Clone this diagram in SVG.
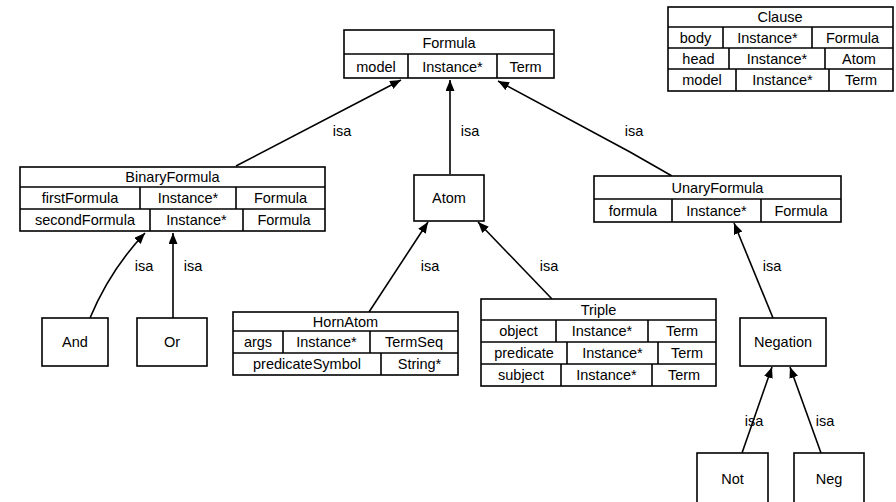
<svg xmlns="http://www.w3.org/2000/svg" width="896" height="502" viewBox="0 0 896 502">
<style>
.b,.d{fill:#fff;stroke:#000;stroke-width:1.6}
.d{fill:none}
.c{fill:none;stroke:#000;stroke-width:1.6}
text{font-family:"Liberation Sans",Arial,sans-serif;font-size:14.5px;fill:#000;text-anchor:middle}
</style>
<defs>
<marker id="ah" markerUnits="userSpaceOnUse" markerWidth="12" markerHeight="10" refX="11" refY="4.5" orient="auto">
<path d="M0,0 L11,4.5 L0,9 Z" fill="#000"/>
</marker>
</defs>
<rect x="0" y="0" width="896" height="502" fill="#fff"/>
<g id="connectors">
<path class="c" d="M236,166 L401,80" marker-end="url(#ah)"/>
<path class="c" d="M450,174 L450,80" marker-end="url(#ah)"/>
<path class="c" d="M672,176 L630,152 L498,81" marker-end="url(#ah)"/>
<path class="c" d="M90,318 Q110,270 145,233" marker-end="url(#ah)"/>
<path class="c" d="M173,318 L173,233" marker-end="url(#ah)"/>
<path class="c" d="M369,312 L428,222" marker-end="url(#ah)"/>
<path class="c" d="M552,299 L478,222" marker-end="url(#ah)"/>
<path class="c" d="M773,318 L734,223" marker-end="url(#ah)"/>
<path class="c" d="M742,453 L772,367" marker-end="url(#ah)"/>
<path class="c" d="M821,453 L790,367" marker-end="url(#ah)"/>
<text x="342" y="136">isa</text>
<text x="470" y="136">isa</text>
<text x="634" y="136">isa</text>
<text x="144" y="271">isa</text>
<text x="193" y="271">isa</text>
<text x="430" y="271">isa</text>
<text x="549" y="271">isa</text>
<text x="772" y="271">isa</text>
<text x="754" y="426">isa</text>
<text x="825" y="426">isa</text>
</g>
<g id="Clause">
<rect class="b" x="668" y="7" width="225" height="84"/>
<line class="d" x1="668" y1="27" x2="893" y2="27"/>
<line class="d" x1="668" y1="48" x2="893" y2="48"/>
<line class="d" x1="668" y1="69" x2="893" y2="69"/>
<line class="d" x1="723" y1="27" x2="723" y2="48"/>
<line class="d" x1="812" y1="27" x2="812" y2="48"/>
<line class="d" x1="729" y1="48" x2="729" y2="69"/>
<line class="d" x1="825" y1="48" x2="825" y2="69"/>
<line class="d" x1="736" y1="69" x2="736" y2="91"/>
<line class="d" x1="829" y1="69" x2="829" y2="91"/>
<text x="780" y="22">Clause</text>
<text x="695.5" y="42.5">body</text><text x="767.5" y="42.5">Instance*</text><text x="852.5" y="42.5">Formula</text>
<text x="698.5" y="63.5">head</text><text x="777" y="63.5">Instance*</text><text x="859" y="63.5">Atom</text>
<text x="702" y="85">model</text><text x="782.5" y="85">Instance*</text><text x="861" y="85">Term</text>
</g>
<g id="Formula">
<rect class="b" x="344" y="30" width="210" height="48"/>
<line class="d" x1="344" y1="54" x2="554" y2="54"/>
<line class="d" x1="408" y1="54" x2="408" y2="78"/>
<line class="d" x1="497" y1="54" x2="497" y2="78"/>
<text x="449" y="47.5">Formula</text>
<text x="376" y="71.5">model</text><text x="452.5" y="71.5">Instance*</text><text x="525.5" y="71.5">Term</text>
</g>
<g id="BinaryFormula">
<rect class="b" x="20" y="167" width="305" height="64"/>
<line class="d" x1="20" y1="187" x2="325" y2="187"/>
<line class="d" x1="20" y1="209" x2="325" y2="209"/>
<line class="d" x1="140" y1="187" x2="140" y2="209"/>
<line class="d" x1="236" y1="187" x2="236" y2="209"/>
<line class="d" x1="150" y1="209" x2="150" y2="231"/>
<line class="d" x1="243" y1="209" x2="243" y2="231"/>
<text x="172.5" y="182">BinaryFormula</text>
<text x="80" y="203">firstFormula</text><text x="188" y="203">Instance*</text><text x="280.5" y="203">Formula</text>
<text x="85" y="225">secondFormula</text><text x="196.5" y="225">Instance*</text><text x="284" y="225">Formula</text>
</g>
<g id="Atom">
<rect class="b" x="414" y="175" width="70" height="46"/>
<text x="449" y="203">Atom</text>
</g>
<g id="UnaryFormula">
<rect class="b" x="594" y="176" width="247" height="46"/>
<line class="d" x1="594" y1="199" x2="841" y2="199"/>
<line class="d" x1="672" y1="199" x2="672" y2="222"/>
<line class="d" x1="761" y1="199" x2="761" y2="222"/>
<text x="717.5" y="192.5">UnaryFormula</text>
<text x="633" y="215.5">formula</text><text x="716.5" y="215.5">Instance*</text><text x="801" y="215.5">Formula</text>
</g>
<g id="And">
<rect class="b" x="42" y="318" width="66" height="48"/>
<text x="75" y="347">And</text>
</g>
<g id="Or">
<rect class="b" x="137" y="318" width="70" height="48"/>
<text x="172" y="347">Or</text>
</g>
<g id="HornAtom">
<rect class="b" x="233" y="312" width="225" height="63"/>
<line class="d" x1="233" y1="331" x2="458" y2="331"/>
<line class="d" x1="233" y1="353" x2="458" y2="353"/>
<line class="d" x1="283" y1="331" x2="283" y2="353"/>
<line class="d" x1="370" y1="331" x2="370" y2="353"/>
<line class="d" x1="381" y1="353" x2="381" y2="375"/>
<text x="345.5" y="326.5">HornAtom</text>
<text x="258" y="347">args</text><text x="326.5" y="347">Instance*</text><text x="414" y="347">TermSeq</text>
<text x="307" y="369">predicateSymbol</text><text x="419.5" y="369">String*</text>
</g>
<g id="Triple">
<rect class="b" x="481" y="299" width="235" height="87"/>
<line class="d" x1="481" y1="320" x2="716" y2="320"/>
<line class="d" x1="481" y1="342" x2="716" y2="342"/>
<line class="d" x1="481" y1="364" x2="716" y2="364"/>
<line class="d" x1="556" y1="320" x2="556" y2="342"/>
<line class="d" x1="648" y1="320" x2="648" y2="342"/>
<line class="d" x1="567" y1="342" x2="567" y2="364"/>
<line class="d" x1="658" y1="342" x2="658" y2="364"/>
<line class="d" x1="561" y1="364" x2="561" y2="386"/>
<line class="d" x1="652" y1="364" x2="652" y2="386"/>
<text x="598.5" y="314.5">Triple</text>
<text x="518.5" y="336">object</text><text x="602" y="336">Instance*</text><text x="682" y="336">Term</text>
<text x="524" y="358">predicate</text><text x="612.5" y="358">Instance*</text><text x="687" y="358">Term</text>
<text x="521" y="380">subject</text><text x="606.5" y="380">Instance*</text><text x="684" y="380">Term</text>
</g>
<g id="Negation">
<rect class="b" x="740" y="318" width="86" height="48"/>
<text x="783" y="347">Negation</text>
</g>
<g id="Not">
<rect class="b" x="697" y="453" width="71" height="55"/>
<text x="732.5" y="483.5">Not</text>
</g>
<g id="Neg">
<rect class="b" x="794" y="453" width="70" height="55"/>
<text x="829" y="483.5">Neg</text>
</g>
</svg>
